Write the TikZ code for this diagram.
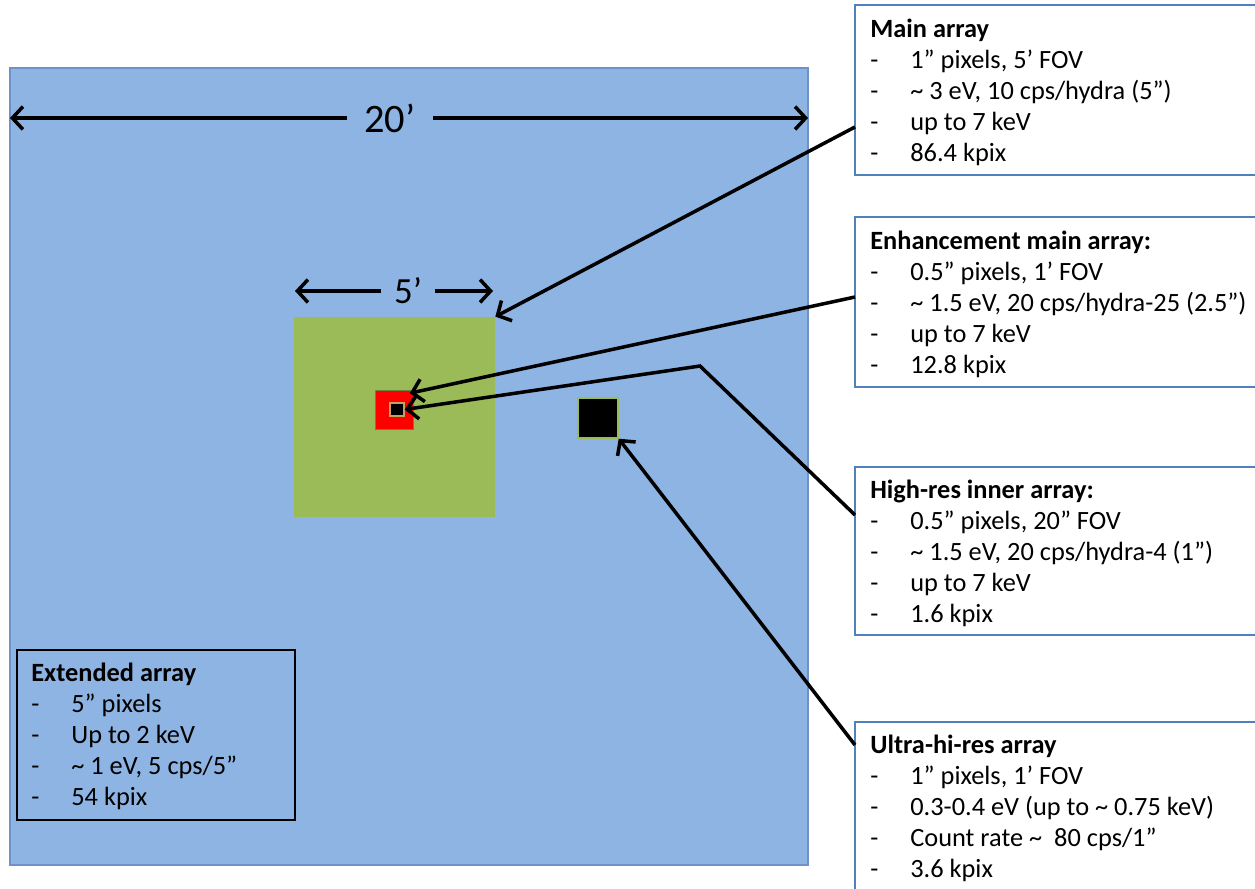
\documentclass[tikz,border=0pt]{standalone}
\usepackage{fontspec}
\setmainfont{Carlito}
\usetikzlibrary{arrows.meta,fit}
\definecolor{bgblue}{RGB}{142,180,227}
\definecolor{bgedge}{RGB}{110,145,200}
\definecolor{pgreen}{RGB}{155,187,89}
\definecolor{boxedge}{RGB}{79,129,189}
\definecolor{tan}{RGB}{200,160,96}
\newcommand\bl[1]{\makebox[0.8cm][l]{-}#1}
\begin{document}
\begin{tikzpicture}[x=0.02cm,y=-0.02cm,
  conn/.style={line width=2pt, -{Straight Barb[length=6pt,width=13pt]}},
  dimarr/.style={line width=2pt, -{Straight Barb[length=6pt,width=13pt]}},
  infobox/.style={draw=boxedge, line width=0.8pt, fill=white, inner sep=0pt},
  infotext/.style={anchor=north west, inner sep=0pt, align=left, font=\fontsize{15}{17.6}\selectfont},
  area/.style={inner sep=0pt}]
\clip (0,0) rectangle (1255,889);
\fill[white] (0,0) rectangle (1255,889);
% field
\node[area, fit={(10,68) (808,865)}, draw=bgedge, line width=0.6pt, fill=bgblue] (sky) {};
\node[area, fit={(294,317) (495,517)}, fill=pgreen] (green) {};
\node[area, fit={(375,390) (413,429)}, fill=red, draw=pgreen!70!black, line width=0.4pt] (red) {};
\node[area, fit={(390,403) (404,416)}, fill=black, draw=tan, line width=0.8pt] (tiny) {};
\node[area, fit={(578,398) (618,438)}, fill=black, draw=pgreen, line width=0.8pt] (blk) {};
% dimensions
\node[inner xsep=10pt, inner ysep=0pt, font=\fontsize{23}{26}\selectfont] (t20) at (390,118) {20’};
\coordinate (l20) at (10,118);
\coordinate (r20) at (808,118);
\draw[dimarr] (t20.west) -- (l20);
\draw[dimarr] (t20.east) -- (r20);
\node[inner xsep=7pt, inner ysep=0pt, font=\fontsize{21}{24}\selectfont] (t5) at (408,291) {5’};
\coordinate (l5) at (295,291);
\coordinate (r5) at (493,291);
\draw[dimarr] (t5.west) -- (l5);
\draw[dimarr] (t5.east) -- (r5);
% extended box
\node[area, fit={(17,650) (295,820)}, draw=black, line width=1pt] (extbox) {};
\node[infotext] (exttext) at (31,663) {\textbf{Extended array}\\
\bl{5” pixels}\\
\bl{Up to 2 keV}\\
\bl{\textasciitilde\ 1 eV, 5 cps/5”}\\
\bl{54 kpix}};
% info boxes
\node[infobox, fit={(855,5) (1265,175)}] (mainbox) {};
\node[infotext] (maintext) at (870,19) {\textbf{Main array}\\
\bl{1” pixels, 5’ FOV}\\
\bl{\textasciitilde\ 3 eV, 10 cps/hydra (5”)}\\
\bl{up to 7 keV}\\
\bl{86.4 kpix}};
\node[infobox, fit={(855,217) (1265,387)}] (enhbox) {};
\node[infotext] (enhtext) at (870,231) {\textbf{Enhancement main array:}\\
\bl{0.5” pixels, 1’ FOV}\\
\bl{\textasciitilde\ 1.5 eV, 20 cps/hydra-25 (2.5”)}\\
\bl{up to 7 keV}\\
\bl{12.8 kpix}};
\node[infobox, fit={(855,467) (1265,635)}] (hibox) {};
\node[infotext] (hitext) at (870,480) {\textbf{High-res inner array:}\\
\bl{0.5” pixels, 20” FOV}\\
\bl{\textasciitilde\ 1.5 eV, 20 cps/hydra-4 (1”)}\\
\bl{up to 7 keV}\\
\bl{1.6 kpix}};
\node[infobox, fit={(855,722) (1265,900)}] (ulbox) {};
\node[infotext] (ultext) at (870,735) {\textbf{Ultra-hi-res array}\\
\bl{1” pixels, 1’ FOV}\\
\bl{0.3-0.4 eV (up to \textasciitilde\ 0.75 keV)}\\
\bl{Count rate \textasciitilde\ \ 80 cps/1”}\\
\bl{3.6 kpix}};
% connectors
\coordinate (mainA) at (855,127);
\coordinate (enhA) at (855,297);
\coordinate (hiA) at (855,515);
\coordinate (hiB) at (700,366);
\coordinate (ulA) at (855,745);
\draw[conn] (mainA) -- (green.north east);
\draw[conn] (enhA) -- ([xshift=-2pt,yshift=-2pt]red.north east);
\draw[conn] (hiA) -- (hiB) -- (tiny.east);
\draw[conn] (ulA) -- (blk.south east);
\end{tikzpicture}
\end{document}
